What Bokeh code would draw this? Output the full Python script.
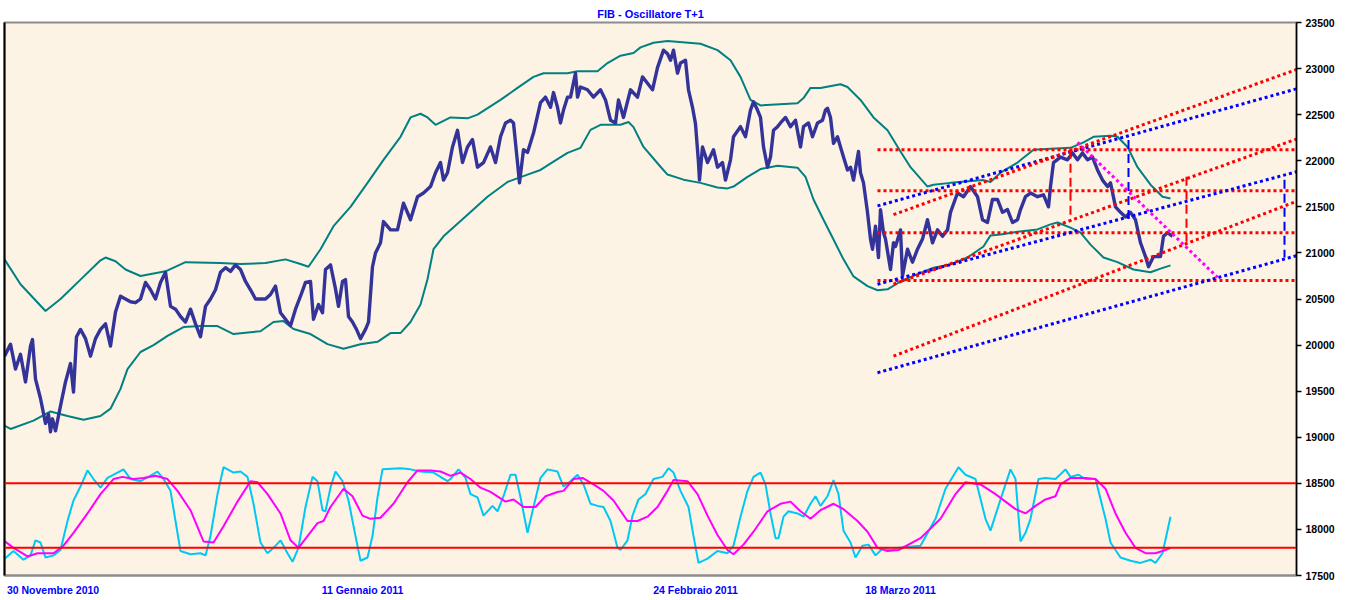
from bokeh.plotting import figure
from bokeh.models import Range1d, LinearAxis, FixedTicker, Span
from bokeh.embed import file_html
from bokeh.resources import INLINE

# ---------------- data ----------------
price_x = [4, 10, 15, 20, 25, 30, 32, 35, 40, 45, 48, 50, 52, 55, 60, 65, 70, 73, 76, 80,
           85, 90, 95, 100, 105, 110, 115, 120, 125, 130, 135, 140, 145, 150, 155, 160, 165, 170, 175, 180,
           185, 190, 195, 200, 205, 210, 215, 220, 225, 230, 235, 240, 245, 250, 255, 260, 265, 270, 275, 280,
           285, 290, 295, 300, 305, 310, 313, 318, 322, 325, 330, 335, 338, 342, 345, 348, 352, 356, 360, 365,
           368, 372, 375, 380, 383, 390, 397, 403, 410, 417, 423, 430, 435, 440, 443, 447, 452, 457, 462, 467,
           472, 477, 483, 490, 495, 500, 505, 510, 513, 517, 519, 523, 527, 533, 540, 545, 550, 553, 557, 560,
           563, 567, 570, 575, 577, 580, 587, 593, 600, 605, 610, 615, 618, 623, 630, 637, 642, 647, 652, 657,
           663, 667, 670, 673, 677, 680, 685, 688, 692, 695, 698, 699, 702, 707, 713, 717, 722, 725, 730, 733,
           740, 745, 750, 753, 757, 760, 763, 767, 770, 773, 777, 780, 785, 790, 795, 800, 803, 808, 812, 817,
           822, 825, 827, 830, 833, 837, 840, 843, 847, 850, 853, 858, 860, 863, 867, 870, 872, 875, 878, 880,
           883, 885, 890, 893, 895, 900, 902, 907, 912, 917, 922, 927, 932, 937, 942, 947, 950, 957, 963, 970,
           977, 982, 987, 992, 997, 1002, 1007, 1012, 1017, 1020, 1025, 1030, 1037, 1043, 1048, 1050, 1053, 1060, 1067, 1072,
           1077, 1082, 1087, 1092, 1097, 1102, 1107, 1110, 1115, 1120, 1125, 1130, 1135, 1140, 1145, 1148, 1153, 1160, 1163, 1167,
           1172]
price_y = [19880, 20010, 19740, 19900, 19600, 19990, 20060, 19630, 19420, 19150, 19250, 19060, 19200, 19070, 19340, 19600, 19800, 19490, 20090, 20170,
           20070, 19880, 20070, 20170, 20230, 19990, 20360, 20530, 20500, 20470, 20460, 20500, 20680, 20600, 20500, 20680, 20790, 20420, 20390, 20310,
           20250, 20390, 20230, 20090, 20420, 20500, 20600, 20790, 20840, 20800, 20870, 20820, 20690, 20600, 20500, 20500, 20500, 20550, 20640, 20350,
           20280, 20210, 20390, 20530, 20680, 20690, 20280, 20440, 20350, 20820, 20870, 20610, 20420, 20690, 20710, 20310, 20250, 20170, 20070, 20170,
           20250, 20850, 21000, 21110, 21340, 21250, 21250, 21540, 21360, 21610, 21650, 21720, 21870, 21980, 21790, 21870, 22150, 22330, 21980, 22150,
           22230, 21930, 21980, 22150, 21980, 22260, 22410, 22440, 22410, 21980, 21760, 22120, 22090, 22300, 22630, 22690, 22580, 22740, 22580, 22410,
           22550, 22690, 22690, 22950, 22690, 22800, 22770, 22690, 22770, 22660, 22440, 22410, 22660, 22470, 22770, 22690, 22910, 22840, 22770, 23010,
           23200, 23160, 23090, 23200, 22950, 23060, 23090, 22770, 22580, 22400, 21980, 21790, 22150, 21980, 22120, 21930, 21980, 21790, 22010, 22260,
           22370, 22260, 22550, 22640, 22550, 22470, 22150, 21930, 22040, 22330, 22370, 22410, 22470, 22370, 22440, 22150, 22370, 22410, 22260, 22410,
           22440, 22550, 22570, 22470, 22190, 22260, 22150, 22040, 21900, 21930, 21790, 22100, 21870, 21760, 21440, 21150, 21040, 21290, 20950, 21470,
           21220, 21150, 20820, 21110, 21070, 21250, 20750, 21040, 20900, 21040, 21150, 21360, 21110, 21250, 21180, 21250, 21440, 21650, 21610, 21720,
           21610, 21360, 21330, 21580, 21580, 21440, 21470, 21330, 21360, 21470, 21610, 21650, 21610, 21630, 21500, 21720, 21980, 22040, 22010, 22085,
           22010, 22085, 22010, 22040, 21900, 21790, 21720, 21760, 21500, 21440, 21390, 21440, 21360, 21110, 20960, 20850, 20960, 20960, 21180, 21220,
           21180]

upper_x = [4, 20, 45, 60, 80, 100, 105, 115, 125, 140, 165, 185, 220, 240, 265, 285, 300, 308, 320, 333,
           350, 367, 383, 400, 410, 420, 427, 435, 450, 467, 477, 500, 517, 533, 543, 567, 577, 597, 607, 620,
           633, 640, 653, 667, 700, 717, 730, 740, 750, 760, 797, 803, 810, 820, 840, 847, 860, 873, 887, 900,
           910, 927, 933, 950, 983, 990, 1000, 1017, 1033, 1050, 1070, 1083, 1093, 1110, 1117, 1127, 1137, 1150, 1162, 1170]
upper_y = [20930, 20660, 20370, 20500, 20710, 20920, 20950, 20910, 20820, 20750, 20800, 20900, 20890, 20880, 20890, 20930, 20880, 20850, 21040, 21290,
           21500, 21760, 22010, 22260, 22470, 22510, 22470, 22390, 22470, 22460, 22500, 22660, 22790, 22910, 22950, 22950, 22970, 22970, 23060, 23140,
           23170, 23230, 23280, 23300, 23270, 23200, 23090, 22910, 22660, 22600, 22625, 22680, 22790, 22790, 22830, 22800, 22660, 22470, 22330, 22100,
           21930, 21720, 21740, 21760, 21790, 21770, 21870, 21980, 22120, 22130, 22140, 22200, 22260, 22270, 22260, 22150, 21930, 21740, 21610, 21590]

lower_x = [4, 10, 33, 50, 67, 83, 100, 110, 120, 127, 140, 153, 167, 183, 200, 217, 233, 250, 260, 273,
           283, 293, 310, 327, 343, 360, 377, 390, 400, 410, 420, 427, 433, 443, 467, 487, 507, 527, 540, 553,
           567, 580, 590, 600, 620, 628, 633, 643, 660, 667, 683, 700, 717, 727, 733, 747, 760, 777, 797, 805,
           813, 823, 833, 843, 853, 867, 877, 887, 900, 917, 933, 950, 967, 983, 990, 1000, 1017, 1037, 1050, 1057,
           1070, 1080, 1090, 1103, 1117, 1133, 1150, 1160, 1170]
lower_y = [19125, 19090, 19180, 19280, 19230, 19190, 19230, 19310, 19525, 19740, 19925, 20000, 20100, 20195, 20206, 20206, 20120, 20140, 20150, 20250,
           20260, 20175, 20120, 20010, 19960, 20010, 20035, 20130, 20130, 20250, 20440, 20715, 21040, 21180, 21415, 21610, 21770, 21850, 21900, 21990,
           22085, 22140, 22335, 22390, 22390, 22420, 22365, 22150, 21935, 21850, 21795, 21760, 21710, 21700, 21720, 21825, 21910, 21945, 21925, 21825,
           21580, 21360, 21145, 20930, 20745, 20640, 20595, 20605, 20690, 20770, 20840, 20875, 20950, 21070, 21190, 21200, 21230, 21255, 21310, 21330,
           21275, 21220, 21090, 20950, 20900, 20820, 20790, 20830, 20865]

# oscillator (0-100 scale): fast (cyan) and slow (magenta)
fast_x = [3, 13, 23, 30, 35, 40, 45, 53, 60, 67, 73, 80, 87, 93, 100, 107, 117, 123, 130, 140,
          148, 157, 163, 170, 175, 180, 190, 200, 205, 210, 217, 223, 233, 240, 247, 253, 260, 267, 273, 280,
          287, 292, 298, 305, 312, 317, 322, 325, 330, 335, 342, 348, 355, 360, 367, 372, 377, 382, 400, 410,
          420, 433, 440, 447, 450, 458, 465, 470, 477, 483, 492, 497, 503, 510, 515, 520, 527, 533, 540, 547,
          557, 563, 570, 577, 583, 590, 597, 603, 610, 617, 620, 627, 632, 638, 645, 653, 662, 668, 673, 680,
          688, 693, 698, 707, 717, 727, 733, 740, 747, 753, 760, 765, 770, 775, 778, 783, 788, 797, 803, 810,
          815, 820, 827, 833, 838, 843, 850, 855, 862, 868, 875, 883, 890, 898, 920, 935, 945, 958, 965, 975,
          985, 990, 1000, 1005, 1010, 1015, 1020, 1025, 1030, 1038, 1045, 1055, 1065, 1070, 1078, 1085, 1095, 1105, 1110, 1120,
          1130, 1140, 1150, 1155, 1162, 1170]
fast_v = [9, 17, 9, 13, 27, 25, 11, 13, 18, 45, 64, 77, 92, 84, 76, 85, 90, 93, 84, 82,
          86, 91, 84, 73, 45, 17, 14, 15, 13, 31, 70, 95, 90, 91, 86, 61, 25, 15, 20, 27,
          15, 7, 20, 58, 86, 82, 55, 54, 76, 91, 82, 64, 31, 8, 11, 31, 67, 93, 94, 93,
          91, 90, 86, 82, 84, 93, 85, 70, 67, 50, 59, 54, 68, 88, 88, 67, 34, 58, 85, 93,
          91, 77, 82, 88, 79, 61, 59, 58, 45, 20, 18, 27, 50, 65, 70, 84, 86, 94, 90, 73,
          58, 31, 6, 10, 17, 15, 22, 49, 73, 86, 90, 79, 52, 29, 29, 49, 54, 52, 49, 61,
          68, 59, 68, 83, 70, 36, 25, 11, 22, 23, 13, 20, 18, 20, 22, 47, 75, 95, 88, 84,
          47, 36, 65, 79, 93, 84, 26, 34, 47, 84, 85, 84, 93, 86, 88, 84, 84, 47, 25, 11,
          8, 6, 9, 6, 15, 49]

slow_x = [3, 13, 27, 37, 53, 63, 73, 87, 100, 113, 122, 133, 143, 155, 167, 177, 190, 203, 213, 223,
          237, 250, 257, 267, 280, 290, 298, 307, 317, 323, 330, 343, 352, 362, 370, 380, 393, 407, 417, 430,
          440, 450, 460, 470, 480, 490, 505, 513, 523, 535, 545, 557, 563, 573, 582, 593, 603, 613, 627, 637,
          647, 657, 667, 673, 687, 697, 707, 717, 727, 733, 743, 753, 767, 780, 790, 800, 810, 820, 833, 843,
          857, 867, 877, 887, 898, 920, 940, 955, 965, 980, 995, 1005, 1015, 1025, 1035, 1045, 1055, 1060, 1070, 1085,
          1095, 1105, 1115, 1125, 1135, 1145, 1155, 1165, 1170]
slow_v = [27, 20, 12, 15, 15, 22, 34, 52, 70, 84, 86, 84, 85, 87, 84, 73, 55, 26, 25, 40,
          63, 82, 81, 70, 52, 27, 20, 31, 43, 45, 58, 75, 68, 50, 47, 48, 61, 81, 92, 92,
          91, 87, 90, 84, 76, 72, 63, 65, 58, 58, 68, 72, 73, 84, 85, 79, 73, 64, 45, 45,
          49, 58, 73, 83, 82, 70, 50, 32, 18, 14, 23, 35, 54, 61, 63, 54, 47, 55, 61, 56,
          45, 35, 20, 17, 18, 29, 47, 70, 81, 79, 70, 63, 56, 52, 59, 65, 68, 79, 85, 85,
          84, 75, 52, 34, 20, 15, 15, 18, 20]
osc_levels = [80, 20]

# drawn trend channels (price units)
blue_chan_x0 = [877, 877, 877]
blue_chan_y0 = [21510, 20660, 19700]
blue_chan_x1 = [1296, 1296, 1296]
blue_chan_y1 = [22780, 21880, 20970]
red_chan_x0 = [893, 893, 893]
red_chan_y0 = [21415, 20660, 19880]
red_chan_x1 = [1296, 1296, 1296]
red_chan_y1 = [22990, 22235, 21560]
fib_x0 = 877
fib_x1 = 1296
fib_levels = [22120, 21675, 21220, 20700]
vdash_x = [1070, 1128, 1186, 1284]
vdash_y0 = [22120, 22226, 21826, 21794]
vdash_y1 = [21340, 21360, 21060, 20950]
vdash_colors = ["#FF0000", "#0000FF", "#FF0000", "#0000FF"]
proj_x = [1077, 1217]
proj_y = [22200, 20735]

date_ticks = [54, 362, 695, 900]
date_labels = ["30 Novembre  2010", "11 Gennaio 2011", "24 Febbraio 2011", "18 Marzo 2011"]
price_ticks = list(range(17500, 23501, 500))

# ---------------- figure ----------------
FONT = "Liberation Sans"
p = figure(width=1350, height=598, output_backend="svg", toolbar_location=None,
           x_range=Range1d(4, 1296), y_range=Range1d(17500, 23500),
           y_axis_location="right",
           min_border_left=4, min_border_right=54, min_border_top=22, min_border_bottom=20,
           background_fill_color="#FCF3E4", border_fill_color="#FFFFFF",
           outline_line_color="#8C8C8C", outline_line_width=2)
p.extra_y_ranges = {"osc": Range1d(20 + (17500 - 17800) * 60 / 700, 20 + (23500 - 17800) * 60 / 700)}

p.title.text = "FIB - Oscillatore T+1"
p.title.align = "center"
p.title.text_font = FONT
p.title.text_font_size = "11px"
p.title.text_font_style = "bold"
p.title.text_color = "#0000FF"
p.title.standoff = 5

p.xgrid.visible = False
p.ygrid.visible = False

# right price axis
ya = p.yaxis[0]
ya.ticker = FixedTicker(ticks=price_ticks)
ya.minor_tick_line_color = None
ya.major_tick_in = 0
ya.major_tick_out = 5
ya.major_tick_line_width = 1.5
ya.axis_line_width = 1.5
ya.axis_line_color = "#000000"
ya.major_label_text_font = FONT
ya.major_label_text_font_size = "10.5px"
ya.major_label_text_font_style = "bold"
ya.major_label_text_color = "#000000"
ya.major_label_standoff = 4

# bottom date axis
xa = p.xaxis[0]
xa.ticker = FixedTicker(ticks=date_ticks)
xa.major_label_overrides = {t: l for t, l in zip(date_ticks, date_labels)}
xa.major_tick_line_color = None
xa.minor_tick_line_color = None
xa.axis_line_color = "#8C8C8C"
xa.axis_line_width = 2
xa.major_label_text_font = FONT
xa.major_label_text_font_size = "10.5px"
xa.major_label_text_font_style = "bold"
xa.major_label_text_color = "#0000FF"
xa.major_label_standoff = 2

# left border line
la = LinearAxis(ticker=FixedTicker(ticks=[]), axis_line_color="#000000", axis_line_width=2,
                major_tick_line_color=None, minor_tick_line_color=None)
p.add_layout(la, "left")

# oscillator panel
for lv in osc_levels:
    p.add_layout(Span(location=lv, dimension="width", y_range_name="osc",
                      line_color="#FF0000", line_width=2))
p.line(fast_x, fast_v, y_range_name="osc", line_color="#00C8F5", line_width=2)
p.line(slow_x, slow_v, y_range_name="osc", line_color="#FF00FF", line_width=2)

# bands and price
p.line(upper_x, upper_y, line_color="#008080", line_width=2)
p.line(lower_x, lower_y, line_color="#008080", line_width=2)
p.line(price_x, price_y, line_color="#333399", line_width=3.4, line_join="round")

# drawn overlays
p.segment(x0=[fib_x0] * len(fib_levels), y0=fib_levels, x1=[fib_x1] * len(fib_levels), y1=fib_levels,
          line_color="#FF0000", line_width=3, line_dash="3 3")
p.segment(x0=blue_chan_x0, y0=blue_chan_y0, x1=blue_chan_x1, y1=blue_chan_y1,
          line_color="#0000FF", line_width=3, line_dash="3 3")
p.segment(x0=red_chan_x0, y0=red_chan_y0, x1=red_chan_x1, y1=red_chan_y1,
          line_color="#FF0000", line_width=3, line_dash="3 3")
p.segment(x0=vdash_x, y0=vdash_y0, x1=vdash_x, y1=vdash_y1,
          line_color=vdash_colors, line_width=2, line_dash="9 5")
p.line(proj_x, proj_y, line_color="#FF00FF", line_width=3, line_dash="3 3")

open("out.html", "w").write(file_html(p, INLINE))
